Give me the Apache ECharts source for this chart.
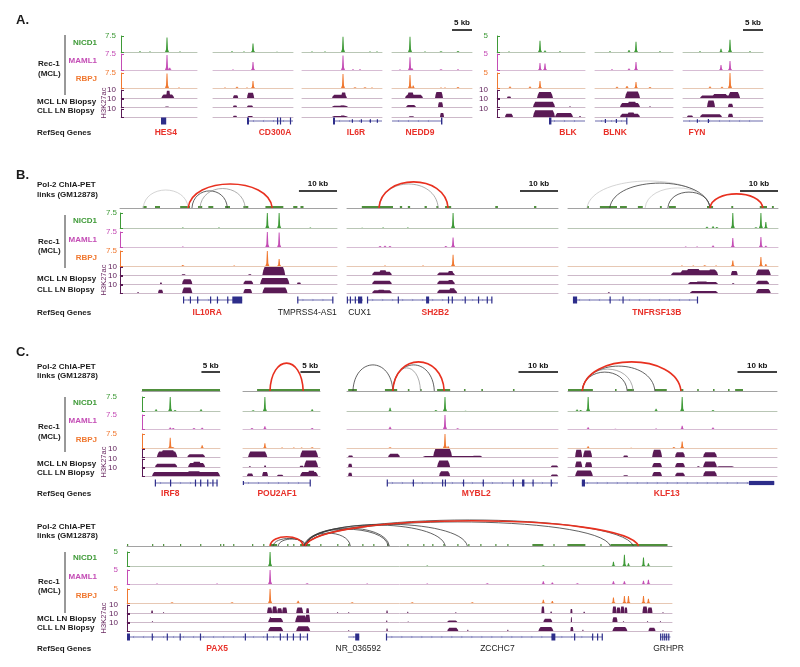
<!DOCTYPE html>
<html><head><meta charset="utf-8">
<script src="https://cdn.jsdelivr.net/npm/echarts@6/dist/echarts.min.js"></script>
<style>html,body{margin:0;padding:0;background:#fff}#c{width:800px;height:667px}</style>
</head><body><div id="c"></div><script>
// ---------------- DATA (genomic positions in kb from the left edge of each locus window) ----------------
const LOCI = ['HES4','CD300A','IL6R','NEDD9','BLK','BLNK','FYN','IL10RA','SH2B2','TNFRSF13B','IRF8','POU2AF1','MYBL2','KLF13','PAX5'];
const LENGTH_KB = [19,20,20,20,22,19.5,20,57,55.5,55.3,21,19.7,53.4,52.9,363];
const CHIP_MAX = [7.5,7.5,7.5,7.5,5,5,5,7.5,7.5,7.5,7.5,7.5,7.5,7.5,5];
const H3_MAX = 10;
// ChIP-seq peaks: [position kb, signal]
const NICD1 = [
 [[4.75,0.3],[7.25,0.2],[11.5,6.8],[14.75,0.2]],
 [[4.75,0.3],[7.75,0.2],[10,4.0],[16,0.15]],
 [[2.5,0.2],[5.75,0.2],[10.25,7.2],[17,0.2],[18.75,0.2]],
 [[4.5,7.2],[8.25,0.2],[12.25,0.4],[16.5,0.5]],
 [[3,0.15],[10.75,3.5],[12,0.5],[15.75,0.2]],
 [[3.75,0.2],[8.5,0.6],[10.25,3.2],[16.25,0.2]],
 [[4.25,0.2],[9.5,1.0],[11.75,3.8],[16.75,0.2]],
 [[16.5,0.2],[26,0.2],[38.7,8],[41.8,8],[50,0.2]],
 [[4,0.15],[9.5,0.2],[16,0.2],[27.9,8]],
 [[36.6,0.6],[38.2,0.9],[39.2,0.5],[43.4,8],[49.5,0.4],[50.8,8],[52.1,3]],
 [[3.8,1],[7.6,8],[8.9,0.5],[15.9,1]],
 [[2.6,0.4],[5.6,8],[17.7,1]],
 [[10.9,1.8],[22.5,0.5],[24.8,8],[30,0.2]],
 [[2.3,0.8],[3.2,0.6],[5.1,8],[22.3,1.2],[28.9,8],[36.7,0.6]],
 [[95.3,6],[200,0.15],[277.3,0.3],[324,1.5],[331.3,4],[334,1],[344,3],[347.3,1]]
];
const MAML1 = [
 [[11.5,7.0],[12.2,1.0]],
 [[5,0.2],[10,3.7]],
 [[10.25,6.8],[12.75,0.3],[14.5,0.3]],
 [[2,0.2],[4.5,6.0],[5,0.8],[12.25,0.4],[16.5,0.3]],
 [[10.75,2.2],[12,2.0]],
 [[4.25,0.2],[8.5,0.5],[10.25,2.5]],
 [[9.5,1.6],[11.75,2.8]],
 [[16.5,0.2],[38.7,8],[41.8,7.2]],
 [[8.7,0.5],[10,0.6],[11.3,0.5],[26,0.5],[27.9,4.7]],
 [[31,0.3],[34,0.3],[38.2,0.7],[43.4,4.5],[50.8,5],[52.1,0.6]],
 [[7.6,0.8],[8.4,0.6],[14,0.5],[16.2,0.7]],
 [[2.3,0.5],[5.6,1.5],[17.7,0.6]],
 [[10.9,1.2],[24.8,8],[28,0.4]],
 [[5.1,1.0],[12,0.2],[22.3,0.3],[28.9,1.8],[36.7,0.8]],
 [[20,0.2],[60,0.2],[95.3,6],[120,0.3],[160,0.2],[200,0.2],[240,0.3],[277.3,1],[283.3,0.5],[300,0.3],[324,1],[331.3,1],[344,1.2],[347.3,1.5]]
];
const RBPJ = [
 [[11.5,7.3],[14.5,0.2]],
 [[3,0.2],[6,0.6],[8.5,0.3],[10,3.5]],
 [[10.25,7.0],[13.25,0.4],[15.75,0.4],[17.5,0.3]],
 [[4.5,6.5],[5.3,1.2],[12.25,0.3],[13.25,0.3],[16.5,0.5]],
 [[3.25,0.5],[8.25,0.5],[10.75,2.3]],
 [[5.5,0.4],[8,0.7],[10.25,2.0],[13.75,0.3]],
 [[6.75,0.5],[9.75,0.4],[11.75,6]],
 [[16.5,0.5],[30,0.2],[38.7,8],[41.8,3.5]],
 [[10,0.2],[20,0.2],[27.9,5.6]],
 [[30,0.3],[33,0.3],[36,0.4],[39,0.3],[43.4,2.7],[50.8,4.5],[52.1,1]],
 [[7.6,5.5],[8.3,0.5],[16.2,1.5]],
 [[5.6,2.5],[10,0.3],[13,0.3],[15,0.3],[17.7,0.4]],
 [[10.9,0.4],[24.8,8],[25.6,1.0]],
 [[5.1,1.0],[16,0.2],[26.8,0.5],[28.9,3.5]],
 [[30,0.3],[70,0.3],[95.3,6],[114,0.8],[150,0.3],[190,0.3],[230,0.3],[277.3,1.2],[283.3,0.7],[324,2],[331.3,2.5],[334,2.5],[344,2.5],[347.3,1.5]]
];
// H3K27ac enriched blocks: [start kb, end kb, signal]
const H3_REC1 = [
 [[10.1,13.3,4.5],[11.3,12.3,9]],
 [[5,6.3,3.5],[8.5,10.3,6.5]],
 [[7.5,11.25,4],[9.8,11,7]],
 [[3.25,7.75,4],[3.8,5.5,7],[10.75,12.75,7.5]],
 [[2.5,3.5,2],[10,14,7.5]],
 [[7.5,11.25,8]],
 [[4.25,14.25,3],[7.25,11.25,5],[11.25,14.25,7.5]],
 [[16.2,17.2,1],[33.7,34.5,1],[37.4,43.4,10]],
 [[6.6,11.8,4],[8.4,10.5,6],[23.7,28.4,3],[26.5,28,5]],
 [[27.1,39.5,3],[29.5,39.5,6],[31,35,7.5],[37,39,7],[42.9,44.7,5],[49.5,53.4,7]],
 [[4,9.5,7],[5,9,8.5],[12.2,17,3.5]],
 [[1.3,6.2,7],[14.6,19.2,8]],
 [[0.3,1.5,2],[10.4,13.4,4],[19.2,33.9,1.2],[21.8,26.6,10],[31.6,34.2,1.5]],
 [[1.8,3.6,9],[3.8,6.1,8],[14,15.2,2],[21.3,23.8,9],[27.1,29.6,6],[34.2,37.7,6]],
 [[16.1,17.3,3],[24,24.7,1],[93.3,96.7,7],[96.7,100,8],[100,103.3,6],[103.3,106.7,7],[112.7,117.3,7],[119.3,121.3,6],[140,140.5,1],[147.3,148,1],[172.7,173.7,3],[186.7,187.3,1.5],[218.7,219.3,1],[276,278,8],[282,283,2],[295.3,296.7,5],[304,305,1.5],[323.3,326,8],[326,328.7,7],[328.7,331.3,8],[331.3,333.3,7],[343.3,346.7,8],[346.7,350,7],[356.7,357.3,1]]
];
const H3_MCL = [
 [[11,12,0.5]],
 [[5,6,2],[8.5,10,2]],
 [[7.5,11.5,1.5],[9.5,10.8,2]],
 [[3.5,6,2.5],[11.5,12.75,6]],
 [[9,14.5,6.5],[18,18.5,0.5]],
 [[6.25,11.25,5],[8,10.5,6.5],[13.5,14,0.5]],
 [[6,8,8],[11.25,12.5,4]],
 [[10.5,11,2],[16.3,19,6],[32.4,35,4],[36.8,44.5,7.5],[46.5,47.5,2]],
 [[6.6,11.8,4],[23.7,28.4,4],[26.5,28,5]],
 [[31.6,39.5,2.5],[33.5,37,3],[43.2,43.8,1],[49.5,53,4]],
 [[3.5,9.5,4],[12.4,17,5],[13.5,16,6.5]],
 [[1.5,2,1],[5.4,5.9,2],[14.5,15.5,1.5],[15.6,19.2,8]],
 [[0.3,1.3,4],[22.8,26.1,8],[51.6,53.4,2]],
 [[1.8,3.6,7],[4.3,6.1,6],[21.3,23.8,5],[27.1,29.6,5],[32.7,33.3,1],[34.2,37.7,7],[37.7,42,1]],
 [[16.7,17.2,1],[94,104,5],[95,96,6],[112,120,8],[118.7,122,9],[172.7,173.3,2],[187,187.6,0.5],[213.3,220,2],[277.3,283.3,4],[295.7,296.3,6],[323.3,326.7,6],[330.4,331,1],[346.4,347,1],[355,355.6,1]]
];
const H3_CLL = [
 [],
 [[5,6,1.5],[8.6,10,1.3]],
 [[7.5,11.5,1.3],[9.6,10.8,1.8]],
 [[4.2,5.5,1],[12,13,5]],
 [[2,4,4],[9,14.5,8.5],[14.5,19,5],[20.5,21,1]],
 [[6.25,11.25,4],[8,10,5.5]],
 [[1,2.5,2],[4.25,9.75,3.5],[11.25,12.5,4]],
 [[4.5,5,1],[10,11.3,4],[16.3,19,7],[32.4,34.7,5],[37.4,44,7]],
 [[6.6,11.8,3.5],[8,10,4],[23.7,29,4],[26.8,28.5,6]],
 [[10.5,11,1],[32.1,39.5,2.5],[49.5,53.4,5]],
 [[2.7,21,5],[12,16,6]],
 [[1,2.6,3],[4.9,6.4,5],[8.7,10.3,1.5],[14.6,19.2,5],[16.5,18.5,6.5]],
 [[0.3,1.3,4],[23.3,26.1,6],[51.6,53.4,2]],
 [[1.8,6.3,7],[14,15.2,1],[21.3,23.8,5],[27.1,29.6,4],[34.2,37.7,6]],
 [[94,104,5],[112.7,122,6],[147.3,148,1],[172.7,173.7,3],[213.3,220.7,4],[226.7,227.3,1.5],[253.3,254,1.5],[274,284,5],[295.3,297.3,5],[303.3,304,1.5],[323.3,333.3,5],[347.3,352,4],[356.7,357.3,1]]
];
// Pol-2 ChIA-PET links: [anchor1 kb, anchor2 kb, relative arc height, type 0=red 1=black 2=grey 3=light grey]
const CHIA_LINKS = [[],[],[],[],[],[],[],
 [[6.1,17.9,0.6,3],[18.9,28.2,0.57,1],[21,32.9,0.65,2],[17.9,40,0.8,0]],
 [[8.4,24,0.8,2],[8.4,26.6,0.87,0]],
 [[5,37.4,0.9,3],[11,37.4,0.83,1],[20.3,37.4,0.67,3],[26.3,37.4,0.53,1],[37.4,51.3,0.47,0]],
 [],
 [[6.9,15.4,0.93,0]],
 [[1.5,11.6,0.87,1],[11.6,18.6,0.77,2],[11.6,22.1,0.87,1],[11.6,24.6,0.97,0]],
 [[3.6,15,0.63,1],[3.6,16.5,0.73,2],[3.6,22,0.83,1],[3.6,28.6,0.97,0]],
 [[97.3,118.7,0.27,1],[100.7,119.3,0.25,1],[95.3,117.3,0.33,0],[118.7,148.7,0.46,1],[118,174,0.6,1],[119.3,174.7,0.64,1],[118.7,212,0.75,1],[118.7,226.7,0.78,1],[118.7,322,0.86,1],[118.7,337.3,0.93,1],[118.7,340.7,0.9,0]]
];
// ChIA-PET read coverage: [start kb, end kb]
const CHIA_COVER = [[],[],[],[],[],[],[],
 [[6,7],[9.2,10.5],[15.8,18.4],[20.5,21.6],[23.2,24.5],[27.6,28.9],[32.4,33.7],[38.2,42.9],[45.5,46.6],[47.4,48.2]],
 [[3.9,12.1],[13.9,14.5],[16,16.6],[20.4,21],[23.5,24],[25.8,27.4],[39,39.7],[49.2,49.8]],
 [[5,5.5],[8.4,12.9],[13.7,15.5],[18.4,19.7],[24.2,24.7],[26.6,28.4],[36.6,38.2],[43,43.5],[50.5,52.4],[53.7,54.2]],
 [[0,21]],
 [[3.6,19.7]],
 [[0.3,2.5],[9.6,12.7],[15.4,15.8],[18.5,18.9],[22.8,26.1],[29.6,30],[34,34.4],[42,42.4]],
 [[0,6.3],[11.9,12.3],[15,16.7],[22,25],[28.4,29.2],[32.7,33.1],[36.7,37.1],[40.5,40.9],[42.3,44.3]],
 [[0,0.8],[16.7,17.4],[24,24.7],[35.3,36],[48.7,49.4],[62,62.7],[64,64.7],[70.7,71.4],[83.3,84],[90.7,91.4],[95.3,100],[106.7,107.4],[110.7,111.4],[115.3,122],[128.7,129.4],[140,140.7],[147.3,148],[156.7,157.4],[164,164.7],[173.3,174],[186.7,187.4],[197.3,198],[203.3,204],[210.7,211.4],[220,220.7],[227.3,228],[235.3,236],[245.3,246],[253.3,254],[270,277.3],[284,284.7],[293.3,305.3],[315.3,316],[322,360]]
];
// RefSeq genes: introns [start, end, strand]; exons [start, end, thickness]; names [name, position kb, highlighted]
const GENE_LINES = [[],[[8.5,20,-1]],[[7.75,20,-1]],[[0,12.5,-1]],[[13,22,1]],[[0,8,-1]],[[0,20,-1]],
 [[16.6,32.1,1],[46.6,56,1]],[[0,4.2,1],[5.3,38.2,1]],[[1.3,34.2,-1]],[[3.5,20.3,1]],[[0,17.2,1]],[[10.1,53.4,1]],[[3.5,52.2,1]],
 [[0,120,-1],[147.3,154.7,1],[172.7,316.7,1],[355,362,1]]];
const GENE_EXONS = [
 [[10,11.3,1]],
 [[8.5,9.0,1],[16,16.3,1],[16.75,17,1],[19.25,19.5,1]],
 [[7.75,8.25,1],[12.5,12.7,0.5],[14.75,14.95,0.5],[17,17.2,0.5],[18.75,18.95,0.5]],
 [[12.25,12.6,1]],
 [[13,13.6,1]],
 [[2.5,2.7,0.6],[5.25,5.45,0.6],[7.8,8.1,1]],
 [[3.5,3.7,0.5],[6.25,6.45,0.6]],
 [[16.6,16.8,1],[18.4,18.6,1],[20.3,20.5,1],[23.7,23.9,1],[25.5,25.7,1],[28.2,28.4,1],[29.5,32.1,1],[46.6,46.8,1],[55.8,56,1]],
 [[0,0.2,1],[0.8,1,1],[2.1,2.3,1],[2.9,4.0,1],[5.3,5.5,1],[13.4,13.6,1],[20.8,21.6,1],[26.6,26.8,1],[27.6,27.8,1],[31,31.2,1],[34.5,34.7,1],[36.8,37,1],[38,38.2,1]],
 [[1.3,2.4,1],[11,11.2,1],[14.4,14.6,1],[34,34.2,1]],
 [[3.5,3.7,1],[7.6,7.8,1],[14.3,14.5,1],[15.7,15.9,1],[17.6,17.8,1],[19,19.2,1],[20.1,20.3,1]],
 [[0,0.2,0.6],[17.1,17.3,1]],
 [[10.1,10.3,1],[16.7,16.9,1],[24.1,24.3,1],[24.8,25,1],[29.4,29.6,1],[34.4,34.6,1],[42,42.2,1],[44.3,44.9,1],[47,47.2,1],[51.6,51.8,1]],
 [[3.5,4.3,1],[45.8,52.2,0.6]],
 [[0,2,1],[16.7,17,1],[26.7,27,1],[35.3,35.6,1],[48.7,49.2,1],[78.7,79,1],[93.3,93.6,1],[102,102.3,1],[106.7,107,1],[110.7,111,1],[115.3,115.6,1],[120,120.4,1],[152,154.7,1],[172.7,173,1],[282.7,285.3,1],[298,298.3,1],[310,310.3,1],[313.3,313.6,1],[316.4,316.7,1],[355.3,355.6,1],[356.7,357,1],[358,358.3,1],[359.3,359.6,1],[360.7,361,1]]
];
const GENE_NAMES = [
 [['HES4',11.2,1]],[['CD300A',15.5,1]],[['IL6R',13.5,1]],[['NEDD9',7,1]],[['BLK',17.75,1]],[['BLNK',5,1]],[['FYN',3.5,1]],
 [['IL10RA',22.9,1],['TMPRSS4-AS1',49.2,0]],[['CUX1',3.3,0],['SH2B2',23.2,1]],[['TNFRSF13B',23.4,1]],
 [['IRF8',7.6,1]],[['POU2AF1',8.7,1]],[['MYBL2',32.7,1]],[['KLF13',25,1]],
 [['PAX5',60,1],['NR_036592',154,0],['ZCCHC7',246.7,0],['GRHPR',360.7,0]]
];
// scale bars: [locus index, length kb]
const SCALE_BARS = [[3,5],[6,5],[7,10],[8,10],[9,10],[10,5],[11,5],[12,10],[13,10]];

// ---------------- LAYOUT & STYLE ----------------
const PANELS = {
  A:{chia:null, tracks:[[36,16],[54,16],[73,15],[90,8],[99,8],[109,8]], gene:121, label:133, bar:30, barText:23},
  B:{chia:[178,30], tracks:[[213,15],[232,15],[251,15],[267,8],[276,8],[285,8]], gene:300, label:313, bar:191, barText:184},
  C:{chia:[361,30], tracks:[[397,14],[415,14],[434,14],[449,8],[459,8],[468,8]], gene:483, label:494, bar:372, barText:366},
  D:{chia:[518,28], tracks:[[552,14],[570,14],[589,14],[605,8],[614,8],[623,8]], gene:637, label:649, bar:null}
};
const LAYOUT = [
 ['A',121,76,3],['A',213,80,null],['A',302,80,null],['A',392,80,null],['A',497,88,7],['A',595,78,null],['A',683,80,null],
 ['B',120,217,1],['B',347,211,null],['B',568,210,null],
 ['C',142,78,23],['C',243,77,null],['C',347,211,null],['C',568,209,null],
 ['D',127,545,7]
];
const FONT = '"Liberation Sans", Arial, Helvetica, sans-serif';
const GENE_COL = '#2d2d8a', CHEV_COL = '#6262b0', RED = '#e8312a';
const ARC_STYLE = [['#e8301f',1.6],['#3a3a3a',0.8],['#8a8a8a',0.7],['#c2c2c2',0.7]];
const TRACKS = [
  {data:NICD1, color:'#3e9a37', base:'#b9c6b5', kind:'peak'},
  {data:MAML1, color:'#c44cb5', base:'#d7bdd4', kind:'peak'},
  {data:RBPJ,  color:'#f07830', base:'#e7c8b4', kind:'peak'},
  {data:H3_REC1, color:'#5a1a55', base:'#cdb9c9', kind:'mound'},
  {data:H3_MCL,  color:'#5a1a55', base:'#cdb9c9', kind:'mound'},
  {data:H3_CLL,  color:'#5a1a55', base:'#cdb9c9', kind:'mound'}
];

const grid=[], xAxis=[], yAxis=[], series=[], graphic=[];
function addGrid(left, top, width, height, xmax, ymax, baseColor, bracket){
  const i = grid.length;
  grid.push({left, top, width, height});
  xAxis.push({gridIndex:i, type:'value', min:0, max:xmax, show:!!baseColor,
    axisLine:{show:!!baseColor, lineStyle:{color:baseColor||'#000', width:1}},
    axisTick:{show:false}, axisLabel:{show:false}, splitLine:{show:false}});
  if (bracket) {
    yAxis.push({gridIndex:i, type:'value', min:0, max:ymax, interval:ymax, position:'left', offset:bracket.offset,
      axisLine:{show:true, lineStyle:{color:bracket.color, width:1}},
      axisTick:{show:true, inside:true, length:3, lineStyle:{color:bracket.color, width:1}},
      axisLabel:{show:true, margin:2, color:bracket.color, fontSize:8, fontFamily:FONT, formatter:v => (v===ymax ? String(ymax) : '')},
      splitLine:{show:false}});
  } else {
    yAxis.push({gridIndex:i, type:'value', min:0, max:ymax, show:false});
  }
  return i;
}
function custom(gi, data, renderItem){
  series.push({type:'custom', xAxisIndex:gi, yAxisIndex:gi, silent:true, animation:false, data, renderItem});
}
function peakSeries(gi, data, color){
  custom(gi, data, (p, api) => {
    const b = api.coord([api.value(0),0]), t = api.coord([api.value(0), api.value(1)]);
    const top = Math.max(t[1], p.coordSys.y), x=b[0], y0=b[1], h=y0-top;
    if (h <= 0) return null;
    return {type:'polygon', shape:{points:[[x-2,y0],[x-1,y0-h*0.18],[x-0.45,top],[x+0.45,top],[x+1,y0-h*0.18],[x+2,y0]]}, style:{fill:color}};
  });
}
function moundSeries(gi, data, color){
  custom(gi, data, (p, api) => {
    const a = api.coord([api.value(0),0]), b = api.coord([api.value(1), api.value(2)]);
    let x0=a[0], x1=b[0]; const y0=a[1], top=Math.max(b[1], p.coordSys.y);
    if (x1-x0 < 1.2) { const c=(x0+x1)/2; x0=c-0.6; x1=c+0.6; }
    const r = Math.min((x1-x0)*0.18, 2.2), h=y0-top;
    return {type:'polygon', shape:{points:[[x0,y0],[x0+r*0.4,y0-h*0.55],[x0+r,top],[x1-r,top],[x1-r*0.4,y0-h*0.55],[x1,y0]]}, style:{fill:color}};
  });
}
function coverSeries(gi, data){
  custom(gi, data, (p, api) => {
    const a = api.coord([api.value(0),0]), b = api.coord([api.value(1),0]);
    const w = Math.max(b[0]-a[0], 1.2);
    return {type:'rect', shape:{x:a[0], y:a[1]-2, width:w, height:2}, style:{fill:'#4f8f3c'}};
  });
}
function arcSeries(gi, data){
  custom(gi, data, (p, api) => {
    const a = api.coord([api.value(0),0]), b = api.coord([api.value(1),0]), t = api.coord([api.value(0), api.value(2)]);
    const H = a[1]-t[1], span=b[0]-a[0], k=H*4/3, st=ARC_STYLE[api.value(3)];
    return {type:'bezierCurve', shape:{x1:a[0],y1:a[1],x2:b[0],y2:b[1],cpx1:a[0]+span*0.04,cpy1:a[1]-k,cpx2:b[0]-span*0.04,cpy2:b[1]-k},
      style:{stroke:st[0], lineWidth:st[1], fill:null}};
  });
}
function scaleBarSeries(gi, L, kb, yBar, yText){
  custom(gi, [[L-kb, L]], (p, api) => {
    const a = api.coord([api.value(0),0]), b = api.coord([api.value(1),0]);
    return {type:'group', children:[
      {type:'line', shape:{x1:a[0], y1:yBar, x2:b[0], y2:yBar}, style:{stroke:'#000', lineWidth:1.5}},
      {type:'text', style:{text:kb+' kb', x:(a[0]+b[0])/2, y:yText, fill:'#111', font:'bold 8px '+FONT, align:'center', verticalAlign:'middle', textAlign:'center', textVerticalAlign:'middle'}}
    ]};
  });
}
function geneSeries(gi, li, labelDy){
  custom(gi, GENE_LINES[li], (p, api) => {
    const a = api.coord([api.value(0),0.5]), b = api.coord([api.value(1),0.5]), d = api.value(2), y=a[1];
    const ch = [{type:'line', shape:{x1:a[0],y1:y,x2:b[0],y2:y}, style:{stroke:GENE_COL, lineWidth:0.7}}];
    for (let x=a[0]+6; x<b[0]-4; x+=10) ch.push({type:'polyline', shape:{points:[[x-d*1,y-1.1],[x,y],[x-d*1,y+1.1]]}, style:{stroke:CHEV_COL, lineWidth:0.5, fill:null}});
    return {type:'group', children:ch};
  });
  custom(gi, GENE_EXONS[li], (p, api) => {
    const a = api.coord([api.value(0),0.5]), b = api.coord([api.value(1),0.5]), th=api.value(2);
    let x0=a[0], w=b[0]-a[0]; if (w<1.2) { x0=(a[0]+b[0])/2-0.6; w=1.2; }
    const h = 7*th;
    return {type:'rect', shape:{x:x0, y:a[1]-h/2, width:w, height:h}, style:{fill:GENE_COL}};
  });
  const names = GENE_NAMES[li];
  custom(gi, names.map(n => [n[1], n[2]]), (p, api) => {
    const c = api.coord([api.value(0),0.5]), hl = api.value(1);
    return {type:'text', style:{text:names[p.dataIndex][0], x:c[0], y:c[1]+labelDy, fill: hl ? RED : '#1a1a1a',
      font:(hl ? 'bold ' : '')+'8.5px '+FONT, align:'center', verticalAlign:'middle', textAlign:'center', textVerticalAlign:'middle'}};
  });
}

LOCI.forEach((name, li) => {
  const [pk, left, width, axOff] = LAYOUT[li];
  const P = PANELS[pk], L = LENGTH_KB[li];
  let firstGrid = null;
  if (P.chia) {
    const gi = addGrid(left, P.chia[0], width, P.chia[1], L, 1, '#a2a2a2', null);
    coverSeries(gi, CHIA_COVER[li]);
    arcSeries(gi, CHIA_LINKS[li]);
    firstGrid = gi;
  }
  TRACKS.forEach((t, ti) => {
    const [top, h] = P.tracks[ti];
    const ymax = ti < 3 ? CHIP_MAX[li] : H3_MAX;
    const gi = addGrid(left, top, width, h, L, ymax, t.base, axOff != null ? {color:t.color, offset:axOff} : null);
    if (t.kind === 'peak') peakSeries(gi, t.data[li], t.color); else moundSeries(gi, t.data[li], t.color);
    if (firstGrid === null) firstGrid = gi;
  });
  SCALE_BARS.filter(s => s[0] === li).forEach(s => scaleBarSeries(firstGrid, L, s[1], P.bar, P.barText));
  const gg = addGrid(left, P.gene-4, width, 8, L, 1, null, null);
  geneSeries(gg, li, P.label - P.gene);
});

// ---------------- static labels ----------------
function txt(x, y, text, o={}){
  graphic.push({type:'text', x, y, silent:true, rotation:o.rot||0,
    style:{text, fill:o.color||'#1a1a1a', font:(o.bold===false?'':'bold ')+(o.size||8)+'px '+FONT,
      align:o.align||'left', verticalAlign:'middle', textAlign:o.align||'left', textVerticalAlign:'middle'}});
}
function vline(x, y1, y2){ graphic.push({type:'line', silent:true, shape:{x1:x,y1,x2:x,y2}, style:{stroke:'#333', lineWidth:1}}); }
const LABEL_ROWS = [
  {panel:'A.', py:20, chia:null, n:43, m:61, r:79, rec:[64,74], line:[35,95], mcl:102, cll:111, h3:103, ref:133},
  {panel:'B.', py:175, chia:[185,195], n:221, m:240, r:258, rec:[242,251], line:[215,268], mcl:279, cll:290, h3:280, ref:313},
  {panel:'C.', py:352, chia:[367,376], n:403, m:421, r:440, rec:[427,437], line:[397,452], mcl:464, cll:473, h3:462, ref:494},
  {panel:null, py:0, chia:[527,536], n:558, m:577, r:596, rec:[582,591], line:[552,613], mcl:619, cll:628, h3:618, ref:649}
];
LABEL_ROWS.forEach(R => {
  if (R.panel) txt(16, R.py, R.panel, {size:13});
  if (R.chia) { txt(37, R.chia[0], 'Pol-2 ChIA-PET'); txt(37, R.chia[1], 'links (GM12878)'); }
  txt(97, R.n, 'NICD1', {align:'right', color:'#3e9a37'});
  txt(97, R.m, 'MAML1', {align:'right', color:'#c44cb5'});
  txt(97, R.r, 'RBPJ', {align:'right', color:'#f07830'});
  txt(38, R.rec[0], 'Rec-1'); txt(38, R.rec[1], '(MCL)');
  vline(65, R.line[0], R.line[1]);
  txt(37, R.mcl, 'MCL LN Biopsy'); txt(37, R.cll, 'CLL LN Biopsy');
  txt(104, R.h3, 'H3K27ac', {align:'center', color:'#6a2a62', bold:false, size:7.5, rot:Math.PI/2});
  txt(37, R.ref, 'RefSeq Genes');
});

const chart = echarts.init(document.getElementById('c'), null, {renderer:'canvas'});
chart.setOption({animation:false, backgroundColor:'#fff', grid, xAxis, yAxis, series, graphic});
</script></body></html>
